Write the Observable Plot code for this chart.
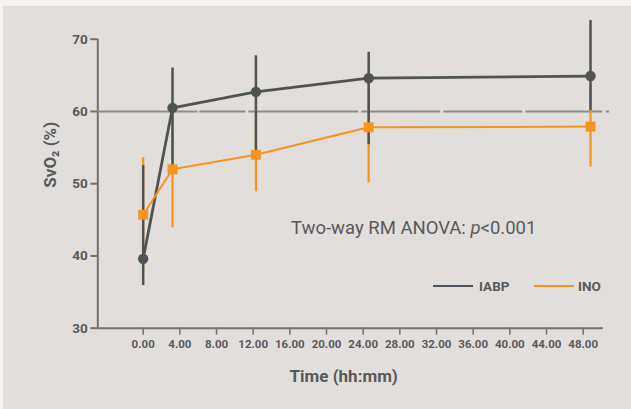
<!DOCTYPE html>
<html>
<head>
<meta charset="utf-8">
<script src="https://cdn.jsdelivr.net/npm/d3@7"></script>
<script src="https://cdn.jsdelivr.net/npm/@observablehq/plot@0.6"></script>
<style>
html, body { margin: 0; padding: 0; background: #f4f3f1; }
#wrap { position: relative; width: 631px; height: 409px; overflow: hidden; }
#panel { position: absolute; left: 3px; top: 6px; width: 628px; height: 403px; background: #e2dedb; }
#chart { position: absolute; left: 0; top: 0; }
#note { position: absolute; left: 291px; top: 216.5px; font-family: Roboto, sans-serif; font-size: 18.5px; line-height: 22px; color: #58595b; white-space: nowrap; }
.lg-line { position: absolute; height: 2.4px; }
.lg-text { position: absolute; font-family: Roboto, sans-serif; font-weight: 700; font-size: 13.5px; line-height: 16px; color: #58595b; }
</style>
</head>
<body>
<div id="wrap">
  <div id="panel"></div>
  <div id="chart"></div>
  <div id="note">Two-way RM ANOVA: <i>p</i>&lt;0.001</div>
  <div class="lg-line" style="left:433px; top:284.5px; width:40px; background:#4d5560;"></div>
  <div class="lg-text" style="left:479px; top:277.5px;">IABP</div>
  <div class="lg-line" style="left:534px; top:284.5px; width:40px; background:#f7941d;"></div>
  <div class="lg-text" style="left:578px; top:277.5px;">INO</div>
</div>
<script>
// ---- data ----
const times    = [0, 3.2, 12.3, 24.6, 48.8];
const iabpMean = [39.6, 60.5, 62.7, 64.6, 64.9];
const iabpLow  = [35.9, 52.3, 53.4, 55.4, 60.1];
const iabpHigh = [52.5, 66.0, 67.7, 68.2, 72.6];
const inoMean  = [45.7, 52.0, 54.0, 57.8, 57.9];
const inoLow   = [37.8, 43.9, 48.9, 50.1, 52.3];
const inoHigh  = [53.6, 60.1, 59.1, 65.5, 63.5];
const xTicks   = [0, 4, 8, 12, 16, 20, 24, 28, 32, 36, 40, 44, 48];
const yTicks   = [30, 40, 50, 60, 70];
const refValue = [60];
const xDomain  = [-4.95, 50.87];
const xAxisEnd = 50.2;
const yDomain  = [30, 70];

const IABP = "#4f5353";
const INO = "#f7941d";
const AXIS = "#727272";
const TEXT = "#58595b";

const rows = times.map((t, i) => ({
  t,
  iabp: iabpMean[i], iabpLo: iabpLow[i], iabpHi: iabpHigh[i],
  ino: inoMean[i], inoLo: inoLow[i], inoHi: inoHigh[i]
}));

const chart = Plot.plot({
  width: 631,
  height: 409,
  marginLeft: 97.3,
  marginRight: 22,
  marginTop: 38.7,
  marginBottom: 81.3,
  style: { background: "transparent", fontFamily: "Roboto, sans-serif", overflow: "visible" },
  x: { domain: xDomain },
  y: { domain: yDomain },
  marks: [
    Plot.axisY(yTicks, { tickSize: 7, tickPadding: 3, fontSize: 13.5, fontWeight: 700, fill: TEXT, stroke: AXIS, strokeWidth: 2, label: null }),
    Plot.axisX(xTicks, { tickSize: 7, tickPadding: 5, tickFormat: d => d.toFixed(2), fontSize: 11.5, fontWeight: 700, fill: TEXT, stroke: AXIS, strokeWidth: 1.5, label: null }),
    Plot.ruleX([xDomain[0]], { y1: yDomain[0], y2: yDomain[1], stroke: AXIS, strokeWidth: 2 }),
    Plot.ruleY([yDomain[0]], { x1: xDomain[0], x2: xAxisEnd, stroke: AXIS, strokeWidth: 2 }),
    Plot.ruleY(refValue, { x1: xDomain[0], x2: xDomain[1], stroke: "#8e8d8b", strokeWidth: 2, strokeDasharray: "100,2,46,3,110,3,79,3,79,3,77,3.5,4,20" }),
    Plot.ruleX(rows, { x: "t", y1: "inoLo", y2: "inoHi", stroke: INO, strokeWidth: 2.2 }),
    Plot.ruleX(rows, { x: "t", y1: "iabpLo", y2: "iabpHi", stroke: IABP, strokeWidth: 2.5 }),
    Plot.line(rows, { x: "t", y: "iabp", stroke: IABP, strokeWidth: 2.8 }),
    Plot.dot(rows, { x: "t", y: "iabp", r: 5.2, fill: IABP }),
    Plot.line(rows, { x: "t", y: "ino", stroke: INO, strokeWidth: 2 }),
    Plot.dot(rows, { x: "t", y: "ino", symbol: "square", r: 5.6, fill: INO }),
    Plot.text(["SvO₂ (%)"], { frameAnchor: "left", rotate: -90, dx: -47, dy: 4, fontSize: 17, fontWeight: 700, fill: TEXT }),
    Plot.text(["Time (hh:mm)"], { frameAnchor: "bottom", dx: -10, dy: 53.3, fontSize: 17, fontWeight: 700, fill: TEXT })
  ]
});
document.getElementById("chart").appendChild(chart);
</script>
</body>
</html>
